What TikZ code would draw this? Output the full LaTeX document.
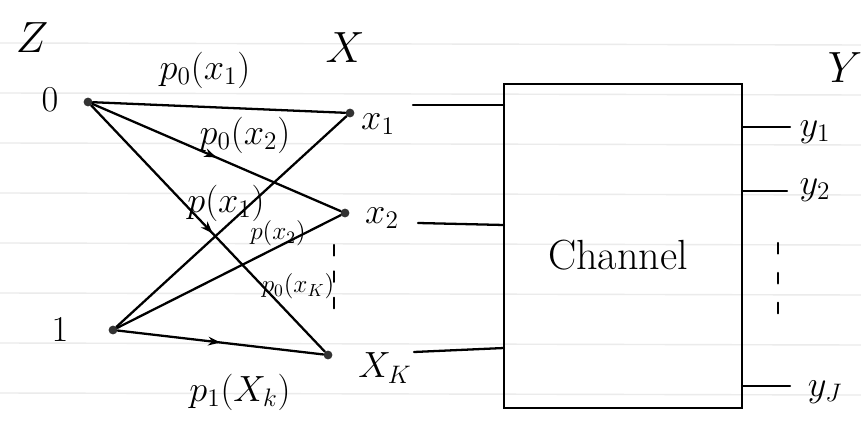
\documentclass[tikz,border=0pt]{standalone}
\usetikzlibrary{decorations.markings,arrows.meta}
\begin{document}
\begin{tikzpicture}[x=0.02cm,y=-0.02cm,
  ink/.style={line width=1.3pt,black,line cap=round},
  dot/.style={circle,fill=black!80,inner sep=0pt,minimum size=5pt},
  lab/.style={inner sep=1pt,font=\fontsize{20}{24}\selectfont},
  small/.style={inner sep=0pt,font=\fontsize{14}{16}\selectfont},
  midarrow/.style={postaction={decorate},decoration={markings,mark=at position #1 with {\arrow{Stealth[length=7pt,width=5pt]}}}},
  paper/.style={black!8,line width=0.8pt}]
\useasboundingbox (0,0) rectangle (861,442);
\fill[white] (0,0) rectangle (861,442);
% ruled paper
\foreach \y in {43,93,143,193,243,293,343,393}
  \draw[paper] (0,\y) -- (861,\y+2);
% headings
\node[lab,font=\fontsize{26}{30}\selectfont] (Zlab) at (32,38) {$Z$};
\node[lab,font=\fontsize{26}{30}\selectfont] (Xlab) at (345,48) {$X$};
\node[lab,font=\fontsize{26}{30}\selectfont] (Ylab) at (845,68) {$Y$};
% source nodes
\node[dot] (z0) at (88,102) {};
\node[dot] (z1) at (113,330) {};
\node[lab] (z0l) at (50,100) {$0$};
\node[lab] (z1l) at (60,330) {$1$};
% X nodes
\node[dot] (x1) at (350,113) {};
\node[dot] (x2) at (345,213) {};
\node[dot] (xK) at (328,355) {};
\node[lab] (x1l) at (378,124) {$x_1$};
\node[lab] (x2l) at (382,218) {$x_2$};
\node[lab] (xKl) at (385,368) {$X_K$};
% vertical dots between x2 and xK
\coordinate (d1) at (334,245);
\coordinate (d2) at (334,318);
\draw[ink,dash pattern=on 6pt off 9pt] (d1) -- (d2);
% edges
\draw[ink] (z0) -- (x1);
\draw[ink,midarrow=0.5] (z0) -- (x2);
\draw[ink,midarrow=0.52] (z0) -- (xK);
\draw[ink] (z1) -- (x1);
\draw[ink] (z1) -- (x2);
\draw[ink,midarrow=0.5] (z1) -- (xK);
% edge labels
\node[lab] (l1) at (205,70) {$p_0(x_1)$};
\node[lab] (l2) at (245,135) {$p_0(x_2)$};
\node[lab] (l3) at (226,203) {$p(x_1)$};
\node[small] (l4) at (278,233) {$p(x_2)$};
\node[small] (l5) at (298,286) {$p_0(x_K)$};
\node[lab] (l6) at (240,392) {$p_1(X_k)$};
% channel
\coordinate (chTL) at (504,84);
\coordinate (chBR) at (742,408);
\draw[ink] (chTL) rectangle (chBR);
\node[lab,font=\fontsize{24}{28}\selectfont] (chl) at (618,255) {Channel};
% inputs
\coordinate (i1) at (413,105);
\coordinate (i2) at (418,223);
\coordinate (i3) at (414,352);
\draw[ink] (i1) -- (504,105);
\draw[ink] (i2) -- (504,225);
\draw[ink] (i3) -- (504,348);
% outputs
\node[lab] (y1) at (815,132) {$y_1$};
\node[lab] (y2) at (815,190) {$y_2$};
\node[lab] (yJ) at (825,392) {$y_J$};
\coordinate (o1) at (790,127);
\coordinate (o2) at (787,191);
\coordinate (o3) at (790,386);
\draw[ink] (742,127) -- (o1);
\draw[ink] (742,191) -- (o2);
\draw[ink] (742,386) -- (o3);
\coordinate (e1) at (778,243);
\coordinate (e2) at (778,330);
\draw[ink,dash pattern=on 6pt off 11pt] (e1) -- (e2);
\end{tikzpicture}
\end{document}
